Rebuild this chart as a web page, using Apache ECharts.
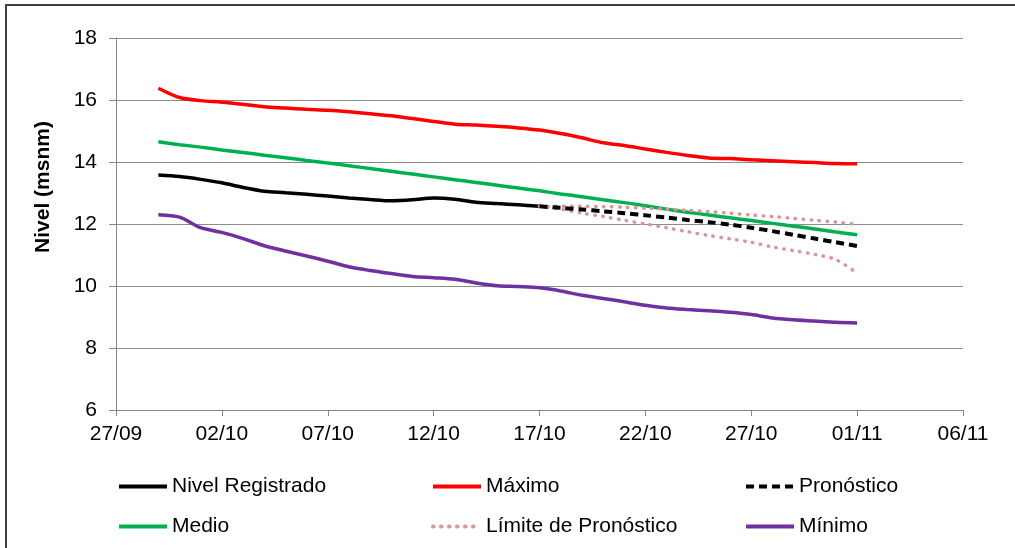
<!DOCTYPE html>
<html>
<head>
<meta charset="utf-8">
<script src="https://cdn.jsdelivr.net/npm/echarts@6/dist/echarts.min.js"></script>
<style>
html,body{margin:0;padding:0;background:#fff;}
#chart{width:1015px;height:548px;}
</style>
</head>
<body>
<div id="chart"></div>
<script>
// ---- Data ----
const originDate = '2011-09-27';
const dates = [
  '2011-09-29','2011-09-30','2011-10-01','2011-10-02','2011-10-03','2011-10-04','2011-10-05',
  '2011-10-06','2011-10-07','2011-10-08','2011-10-09','2011-10-10','2011-10-11','2011-10-12',
  '2011-10-13','2011-10-14','2011-10-15','2011-10-16','2011-10-17','2011-10-18','2011-10-19',
  '2011-10-20','2011-10-21','2011-10-22','2011-10-23','2011-10-24','2011-10-25','2011-10-26',
  '2011-10-27','2011-10-28','2011-10-29','2011-10-30','2011-10-31','2011-11-01'
];
const xTickLabels = ['27/09','02/10','07/10','12/10','17/10','22/10','27/10','01/11','06/11'];
const yTicks = [6, 8, 10, 12, 14, 16, 18];

const maximo = [16.38,16.08,15.98,15.93,15.86,15.78,15.74,15.70,15.67,15.62,15.56,15.49,15.40,15.31,15.22,15.19,15.15,15.10,15.03,14.92,14.78,14.62,14.53,14.42,14.31,14.21,14.13,14.11,14.07,14.04,14.01,13.98,13.95,13.94];
const medio = [14.65,14.56,14.48,14.39,14.31,14.22,14.14,14.05,13.97,13.88,13.79,13.70,13.61,13.52,13.43,13.34,13.25,13.16,13.07,12.97,12.88,12.78,12.69,12.59,12.48,12.38,12.29,12.20,12.11,12.02,11.93,11.84,11.74,11.65];
const minimo = [12.30,12.22,11.88,11.73,11.53,11.30,11.13,10.97,10.80,10.62,10.50,10.40,10.31,10.27,10.22,10.10,10.01,9.98,9.94,9.84,9.70,9.60,9.49,9.38,9.29,9.24,9.20,9.15,9.08,8.97,8.91,8.87,8.83,8.81];
// registered level: 29/09 .. 17/10
const registrado = [13.58,13.53,13.44,13.33,13.18,13.06,13.01,12.96,12.90,12.84,12.79,12.75,12.78,12.84,12.80,12.70,12.66,12.62,12.57];
// forecast and limits: 17/10 .. 01/11
const pronostico = [12.57,12.52,12.47,12.41,12.35,12.28,12.21,12.13,12.06,11.98,11.88,11.77,11.65,11.53,11.41,11.29];
const limiteSup = [12.57,12.57,12.57,12.56,12.54,12.51,12.48,12.44,12.40,12.35,12.29,12.24,12.18,12.12,12.06,11.99];
const limiteInf = [12.57,12.48,12.35,12.24,12.12,12.00,11.88,11.75,11.63,11.52,11.41,11.26,11.14,11.02,10.85,10.41];

// ---- helpers ----
const DAY = 86400000;
const t0 = Date.parse(originDate + 'T00:00:00Z');
const dayOf = d => Math.round((Date.parse(d + 'T00:00:00Z') - t0) / DAY);
const pairs = (vals, offset) => vals.map((v, i) => [dayOf(dates[i + offset]), v]);
const fcOffset = dates.length - pronostico.length;

const FONT = 'Liberation Sans, Arial, sans-serif';
const chart = echarts.init(document.getElementById('chart'));

function lineSeries(name, data, color, width, type, cap) {
  return {
    name: name, type: 'line', data: data, smooth: 0.3,
    symbol: 'none', showSymbol: false, animation: false,
    lineStyle: { color: color, width: width, type: type || 'solid', cap: cap || 'butt' },
    itemStyle: { color: color }
  };
}

function legendAt(name, left, top) {
  return {
    data: [name], left: left, top: top, padding: 0,
    itemWidth: 48, itemHeight: 14, itemGap: 5,
    itemStyle: { opacity: 0 },
    lineStyle: { width: 4 },
    textStyle: { fontFamily: FONT, fontSize: 21, color: '#000' },
    selectedMode: false
  };
}

const option = {
  backgroundColor: '#fff',
  animation: false,
  grid: { left: 116, right: 52, top: 38, bottom: 138, containLabel: false },
  xAxis: {
    type: 'value', min: 0, max: 40, interval: 5,
    axisLine: { show: true, lineStyle: { color: '#868686', width: 1 } },
    axisTick: { show: true, length: 6, lineStyle: { color: '#868686' } },
    splitLine: { show: false },
    axisLabel: {
      margin: 14, fontFamily: FONT, fontSize: 21, color: '#000',
      formatter: v => xTickLabels[Math.round(v / 5)] || ''
    }
  },
  yAxis: {
    type: 'value', min: yTicks[0], max: yTicks[yTicks.length - 1], interval: 2,
    axisLine: { show: true, lineStyle: { color: '#868686', width: 1 } },
    axisTick: { show: true, length: 7, lineStyle: { color: '#868686' } },
    splitLine: { show: true, lineStyle: { color: '#8c8c8c', width: 1 } },
    axisLabel: { margin: 19, fontFamily: FONT, fontSize: 21, color: '#000' }
  },
  legend: [
    legendAt('Nivel Registrado', 117, 476),
    legendAt('Máximo', 431, 476),
    legendAt('Pronóstico', 744, 476),
    legendAt('Medio', 117, 516),
    legendAt('Límite de Pronóstico', 431, 516),
    legendAt('Mínimo', 744, 516)
  ],
  graphic: [
    {
      type: 'rect', silent: true, z: 100,
      shape: { x: 6, y: 5, width: 1100, height: 700 },
      style: { fill: 'none', stroke: '#404040', lineWidth: 2 }
    },
    {
      type: 'text', silent: true,
      x: 43.5, y: 187, rotation: Math.PI / 2,
      style: {
        text: 'Nivel (msnm)', fontFamily: FONT, fontSize: 21, fontWeight: 'bold',
        fill: '#000', align: 'center', verticalAlign: 'middle'
      }
    }
  ],
  series: [
    lineSeries('Nivel Registrado', pairs(registrado, 0), '#000000', 3.5),
    lineSeries('Máximo', pairs(maximo, 0), '#FF0000', 3.5),
    lineSeries('Medio', pairs(medio, 0), '#00B050', 3.5),
    lineSeries('Límite de Pronóstico', pairs(limiteSup, fcOffset), '#D99694', 3.5, [0.5, 7.5], 'round'),
    lineSeries('Límite de Pronóstico', pairs(limiteInf, fcOffset), '#D99694', 3.5, [0.5, 7.5], 'round'),
    lineSeries('Pronóstico', pairs(pronostico, fcOffset), '#000000', 4, [8, 5]),
    lineSeries('Mínimo', pairs(minimo, 0), '#7030A0', 3.5)
  ]
};
chart.setOption(option);
</script>
</body>
</html>
